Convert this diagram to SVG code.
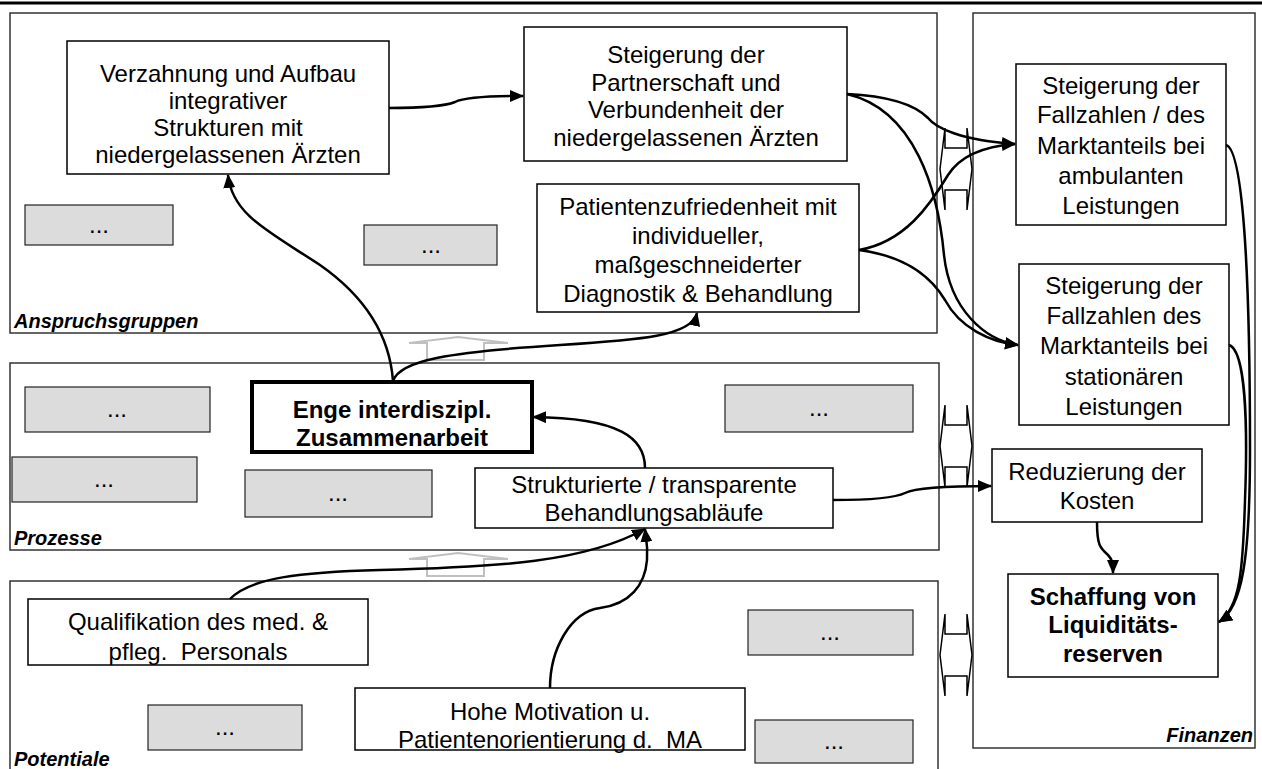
<svg xmlns="http://www.w3.org/2000/svg" width="1262" height="769" viewBox="0 0 1262 769">
<style>
.panel{fill:none;stroke:#333;stroke-width:1.5}
.box{fill:#fff;stroke:#000;stroke-width:1.5}
.gbox{fill:#dcdcdc;stroke:#222;stroke-width:1.2}
.thick{fill:#fff;stroke:#000;stroke-width:4}
.t{font-family:"Liberation Sans",Arial,sans-serif;font-size:24px;fill:#000;text-anchor:middle}
.pre{white-space:pre}
.b{font-weight:bold}
.lbl{font-family:"Liberation Sans",Arial,sans-serif;font-size:20px;font-weight:bold;font-style:italic;fill:#000}
.c{fill:none;stroke:#000;stroke-width:2.5}
.garrow{fill:#fff;stroke:#c0c0c0;stroke-width:2}
.barrow{fill:#fff;stroke:#000;stroke-width:1.5}
</style>
<defs>
<marker id="ah" markerUnits="userSpaceOnUse" markerWidth="14" markerHeight="12" refX="13" refY="6" orient="auto">
<path d="M0,0 L14,6 L0,12 z" fill="#000"/>
</marker>
<path id="dbl" d="M0,41 L5,0 L5,20 L27,20 L27,0 L32,41 L27,82 L27,62 L5,62 L5,82 Z"/>
</defs>
<rect width="1262" height="769" fill="#fff"/>
<line x1="0" y1="3" x2="1262" y2="3" stroke="#000" stroke-width="3"/>

<g id="panels">
<rect class="panel" x="10" y="13" width="927" height="320"/>
<rect class="panel" x="10" y="363" width="929" height="187"/>
<rect class="panel" x="10" y="581" width="928" height="200"/>
<rect class="panel" x="973" y="13" width="282" height="735"/>
<text class="lbl" x="14" y="328">Anspruchsgruppen</text>
<text class="lbl" x="14" y="545">Prozesse</text>
<text class="lbl" x="14" y="766">Potentiale</text>
<text class="lbl" x="1253" y="742" text-anchor="end">Finanzen</text>
</g>

<g id="gray-arrows">
<polygon class="garrow" points="458,337 508,343 484,343 484,360 427,360 427,343 409,343"/>
<polygon class="garrow" points="458,553 508,559 484,559 484,576 427,576 427,559 409,559"/>
</g>

<g id="double-arrows">
<use href="#dbl" class="barrow" x="940" y="128"/>
<use href="#dbl" class="barrow" x="940" y="405"/>
<use href="#dbl" class="barrow" x="940" y="614"/>
</g>

<g id="n-verzahnung">
<rect class="box" x="67" y="41" width="322" height="133"/>
<text class="t" x="228" y="82">Verzahnung und Aufbau</text>
<text class="t" x="228" y="109">integrativer</text>
<text class="t" x="228" y="136">Strukturen mit</text>
<text class="t" x="228" y="163">niedergelassenen Ärzten</text>
</g>
<g id="n-partnerschaft">
<rect class="box" x="524" y="27" width="323" height="134"/>
<text class="t" x="686" y="63">Steigerung der</text>
<text class="t" x="686" y="91">Partnerschaft und</text>
<text class="t" x="686" y="118">Verbundenheit der</text>
<text class="t" x="686" y="146">niedergelassenen Ärzten</text>
</g>
<g id="n-g1"><rect class="gbox" x="25" y="205" width="148" height="40"/><text class="t" x="99" y="233">...</text></g>
<g id="n-g2"><rect class="gbox" x="364" y="225" width="133" height="40"/><text class="t" x="431" y="253">...</text></g>
<g id="n-patient">
<rect class="box" x="537" y="184" width="322" height="128"/>
<text class="t" x="698" y="215">Patientenzufriedenheit mit</text>
<text class="t" x="698" y="244">individueller,</text>
<text class="t" x="698" y="273">maßgeschneiderter</text>
<text class="t" x="698" y="302">Diagnostik &amp; Behandlung</text>
</g>

<g id="n-g3"><rect class="gbox" x="25" y="387" width="185" height="45"/><text class="t" x="117" y="417">...</text></g>
<g id="n-enge">
<rect class="thick" x="252" y="382" width="280" height="70"/>
<text class="t b" x="392" y="418">Enge interdiszipl.</text>
<text class="t b" x="392" y="446">Zusammenarbeit</text>
</g>
<g id="n-g4"><rect class="gbox" x="725" y="385" width="188" height="47"/><text class="t" x="819" y="416">...</text></g>
<g id="n-g5"><rect class="gbox" x="12" y="457" width="185" height="45"/><text class="t" x="104" y="487">...</text></g>
<g id="n-g6"><rect class="gbox" x="245" y="470" width="187" height="47"/><text class="t" x="338" y="501">...</text></g>
<g id="n-struktur">
<rect class="box" x="475" y="468" width="358" height="60"/>
<text class="t" x="654" y="493">Strukturierte / transparente</text>
<text class="t" x="654" y="521">Behandlungsabläufe</text>
</g>

<g id="n-qualifikation">
<rect class="box" x="28" y="599" width="340" height="66"/>
<text class="t" x="198" y="630">Qualifikation des med. &amp;</text>
<text class="t pre" x="198" y="660">pfleg.  Personals</text>
</g>
<g id="n-g7"><rect class="gbox" x="748" y="610" width="165" height="45"/><text class="t" x="830" y="640">...</text></g>
<g id="n-motivation">
<rect class="box" x="355" y="688" width="390" height="62"/>
<text class="t" x="550" y="720">Hohe Motivation u.</text>
<text class="t pre" x="550" y="748">Patientenorientierung d.  MA</text>
</g>
<g id="n-g8"><rect class="gbox" x="148" y="705" width="154" height="45"/><text class="t" x="225" y="735">...</text></g>
<g id="n-g9"><rect class="gbox" x="755" y="720" width="158" height="43"/><text class="t" x="834" y="749">...</text></g>

<g id="n-ambulant">
<rect class="box" x="1016" y="64" width="210" height="161"/>
<text class="t" x="1121" y="94">Steigerung der</text>
<text class="t" x="1121" y="123">Fallzahlen / des</text>
<text class="t" x="1121" y="154">Marktanteils bei</text>
<text class="t" x="1121" y="184">ambulanten</text>
<text class="t" x="1121" y="214">Leistungen</text>
</g>
<g id="n-stationaer">
<rect class="box" x="1019" y="264" width="210" height="161"/>
<text class="t" x="1124" y="294">Steigerung der</text>
<text class="t" x="1124" y="324">Fallzahlen des</text>
<text class="t" x="1124" y="354">Marktanteils bei</text>
<text class="t" x="1124" y="385">stationären</text>
<text class="t" x="1124" y="415">Leistungen</text>
</g>
<g id="n-reduzierung">
<rect class="box" x="992" y="449" width="210" height="73"/>
<text class="t" x="1097" y="480">Reduzierung der</text>
<text class="t" x="1097" y="509">Kosten</text>
</g>
<g id="n-schaffung">
<rect class="box" x="1008" y="574" width="210" height="103"/>
<text class="t b" x="1113" y="605">Schaffung von</text>
<text class="t b" x="1113" y="633">Liquiditäts-</text>
<text class="t b" x="1113" y="662">reserven</text>
</g>

<g id="connectors">
<path class="c" marker-end="url(#ah)" d="M389,108 C425,108 445,106 455,102 C463,98 485,96 523,96"/>
<path class="c" marker-end="url(#ah)" d="M847,94 C890,96 915,105 928,118 C936,128 960,140 1015,144"/>
<path class="c" marker-end="url(#ah)" d="M847,94 C915,110 938,190 944,255 C950,310 985,340 1018,345"/>
<path class="c" marker-end="url(#ah)" d="M859,250 C905,242 930,205 948,175 C962,153 988,146 1015,144"/>
<path class="c" marker-end="url(#ah)" d="M859,250 C905,256 930,275 945,300 C960,328 990,342 1018,345"/>
<path class="c" marker-end="url(#ah)" d="M393,381 C390,340 370,300 320,265 C270,232 232,215 228,175"/>
<path class="c" marker-end="url(#ah)" d="M393,381 C400,360 450,352 560,345 C640,340 692,336 697,313"/>
<path class="c" marker-end="url(#ah)" d="M645,468 C645,438 620,418 533,417"/>
<path class="c" marker-end="url(#ah)" d="M833,500 C870,500 895,498 905,493 C915,488 950,486 991,486"/>
<path class="c" marker-end="url(#ah)" d="M230,599 C250,578 300,572 380,570 C500,567 585,562 645,529"/>
<path class="c" marker-end="url(#ah)" d="M550,688 C550,650 570,612 600,608 C630,604 645,585 647,560 C648,545 646,538 645,529"/>
<path class="c" marker-end="url(#ah)" d="M1097,522 C1097,545 1100,548 1108,555 C1113,560 1113,565 1113,573"/>
<path class="c" marker-end="url(#ah)" d="M1226,145 C1245,150 1250,300 1250,450 C1250,560 1242,608 1219,622"/>
<path class="c" marker-end="url(#ah)" d="M1229,345 C1245,350 1248,420 1245,500 C1243,570 1240,608 1219,622"/>
</g>
</svg>
